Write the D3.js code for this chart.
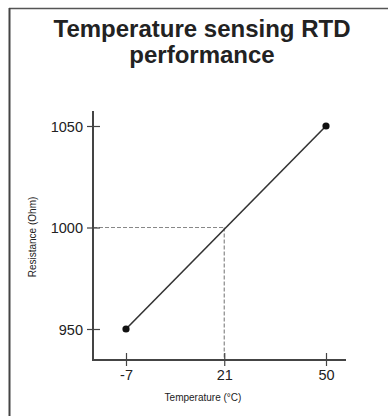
<!DOCTYPE html>
<html><head><meta charset="utf-8">
<script src="https://cdn.jsdelivr.net/npm/d3@7"></script>
<style>body{margin:0;background:#fff}svg{display:block}</style>
</head><body>
<script>
const temps = [-7, 50];
const resist = [950, 1050];
const refTemp = 21;
const refRes = 1000;
const xTicks = [-7, 21, 50];
const yTicks = [950, 1000, 1050];
const titleLines = ["Temperature sensing RTD", "performance"];
const xTitle = "Temperature (°C)";
const yTitle = "Resistance (Ohm)";

const W = 388, H = 416;
const svg = d3.select("body").append("svg").attr("width", W).attr("height", H);
const font = "'Liberation Sans', Arial, Helvetica, sans-serif";

// frame (top + left)
svg.append("line").attr("x1", 9).attr("x2", W).attr("y1", 8.5).attr("y2", 8.5).attr("stroke", "#555").attr("stroke-width", 1.5);
svg.append("line").attr("x1", 9.5).attr("x2", 9.5).attr("y1", 8).attr("y2", H).attr("stroke", "#444").attr("stroke-width", 2);

// title
svg.append("g").selectAll("text").data(titleLines).join("text")
  .attr("x", 202).attr("y", (d, i) => 37 + i * 26)
  .attr("text-anchor", "middle").attr("font-family", font).attr("font-weight", "bold")
  .attr("font-size", 24).attr("fill", "#222").text(d => d);

const x = d3.scaleLinear().domain([-7, 50]).range([126, 326]);
const y = d3.scaleLinear().domain([950, 1050]).range([329, 126]);
const axisX = 93, axisY = 360;
const col = "#444";

// dashed reference lines
svg.append("line").attr("x1", axisX).attr("x2", x(refTemp)).attr("y1", y(refRes)).attr("y2", y(refRes))
  .attr("stroke", "#888").attr("stroke-width", 1.2).attr("stroke-dasharray", "4,2");
svg.append("line").attr("x1", x(refTemp)).attr("x2", x(refTemp)).attr("y1", y(refRes)).attr("y2", axisY)
  .attr("stroke", "#888").attr("stroke-width", 1.2).attr("stroke-dasharray", "4,2");

// axes lines
svg.append("line").attr("x1", axisX).attr("x2", axisX).attr("y1", 111).attr("y2", axisY + 1).attr("stroke", col).attr("stroke-width", 2);
svg.append("line").attr("x1", axisX - 1).attr("x2", 346).attr("y1", axisY).attr("y2", axisY).attr("stroke", col).attr("stroke-width", 2);

// x axis
const gx = svg.append("g").attr("transform", `translate(0,${axisY})`)
  .call(d3.axisBottom(x).tickValues(xTicks).tickSize(6).tickSizeOuter(0).tickFormat(d => String(d)));
gx.select(".domain").remove();
gx.selectAll(".tick line").attr("y1", -7).attr("y2", 6).attr("stroke", col).attr("stroke-width", 1.2);
gx.selectAll(".tick text").attr("y", 10).attr("dy", "0.71em").attr("font-family", font).attr("font-size", 14.5).attr("fill", "#222");

// y axis
const gy = svg.append("g").attr("transform", `translate(${axisX},0)`)
  .call(d3.axisLeft(y).tickValues(yTicks).tickSize(6).tickSizeOuter(0).tickFormat(d => String(d)));
gy.select(".domain").remove();
gy.selectAll(".tick line").attr("x1", -6).attr("x2", 7).attr("stroke", col).attr("stroke-width", 1.2);
gy.selectAll(".tick text").attr("x", -10).attr("dy", "0.36em").attr("font-family", font).attr("font-size", 14.5).attr("fill", "#222");

// axis titles
svg.append("text").attr("x", 203).attr("y", 401).attr("text-anchor", "middle")
  .attr("font-family", font).attr("font-size", 10).attr("fill", "#222").text(xTitle);
svg.append("text").attr("transform", "translate(36,237) rotate(-90)").attr("text-anchor", "middle")
  .attr("font-family", font).attr("font-size", 10).attr("fill", "#222").text(yTitle);

// data line and points
const pts = temps.map((t, i) => [t, resist[i]]);
svg.append("path").datum(pts).attr("fill", "none").attr("stroke", "#333").attr("stroke-width", 1.6)
  .attr("d", d3.line().x(d => x(d[0])).y(d => y(d[1])));
svg.append("g").selectAll("circle").data(pts).join("circle")
  .attr("cx", d => x(d[0])).attr("cy", d => y(d[1])).attr("r", 3.6).attr("fill", "#111");
</script>
</body></html>
